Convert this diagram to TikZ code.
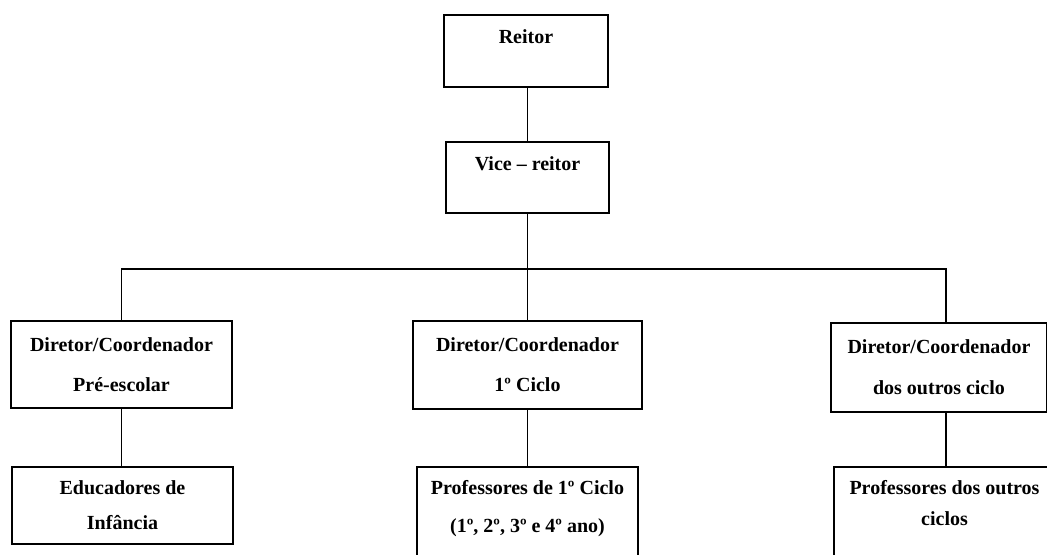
\documentclass[tikz,border=0pt]{standalone}
\usepackage{fontspec}
\setmainfont{Liberation Serif}
\begin{document}
\begin{tikzpicture}[x=0.5pt,y=-0.5pt,
    box/.style={draw=black,line width=0.7pt,inner sep=0pt,align=center,font=\bfseries\fontsize{10}{20}\selectfont},
    link/.style={draw=black,line width=0.6pt}]
    \useasboundingbox (0,0) rectangle (1047,555);
    \node[box,minimum width=82pt,minimum height=36pt,font=\bfseries\fontsize{10}{14}\selectfont] (R) at (526,51) {Reitor\\\mbox{}};
    \node[box,minimum width=81.5pt,minimum height=35.5pt,font=\bfseries\fontsize{10}{14}\selectfont] (V) at (527.5,177.5) {Vice -- reitor\\\mbox{}};
    \node[box,minimum width=110.5pt,minimum height=43.5pt] (D1) at (121.5,364.5) {Diretor/Coordenador\\Pré-escolar};
    \node[box,minimum width=114.5pt,minimum height=44pt] (D2) at (527.5,365) {Diretor/Coordenador\\1º Ciclo};
    \node[box,minimum width=108pt,minimum height=44.5pt,font=\bfseries\fontsize{10}{20.5}\selectfont] (D3) at (939,367.5) {Diretor/Coordenador\\dos outros ciclo};
    \node[box,minimum width=110.5pt,minimum height=38.5pt,font=\bfseries\fontsize{10}{17.5}\selectfont] (E) at (122.5,505.5) {Educadores de\\Infância};
    \node[box,minimum width=110.5pt,minimum height=58pt,font=\bfseries\fontsize{10}{19}\selectfont] (P2) at (527.5,525) {Professores de 1º Ciclo\\(1º, 2º, 3º e 4º ano)\\\mbox{}};
    \node[box,minimum width=110.5pt,minimum height=51pt,font=\bfseries\fontsize{10}{15.5}\selectfont] (P3) at (944.5,518) {Professores dos outros\\ciclos\\\mbox{}};
    \coordinate (H) at (527.5,269);
    \draw[link] (V.north |- R.south) -- (V.north);
    \draw[link] (V.south) -- (H) -- (D2.north);
    \draw[link] (D1.north) |- (H) -| ([xshift=3.5pt]D3.north);
    \draw[link] (D1.south) -- (D1.south |- E.north);
    \draw[link] (D2.south) -- (D2.south |- P2.north);
    \draw[link] ([xshift=3.5pt]D3.south) -- ([xshift=3.5pt]D3.south |- P3.north);
\end{tikzpicture}
\end{document}
